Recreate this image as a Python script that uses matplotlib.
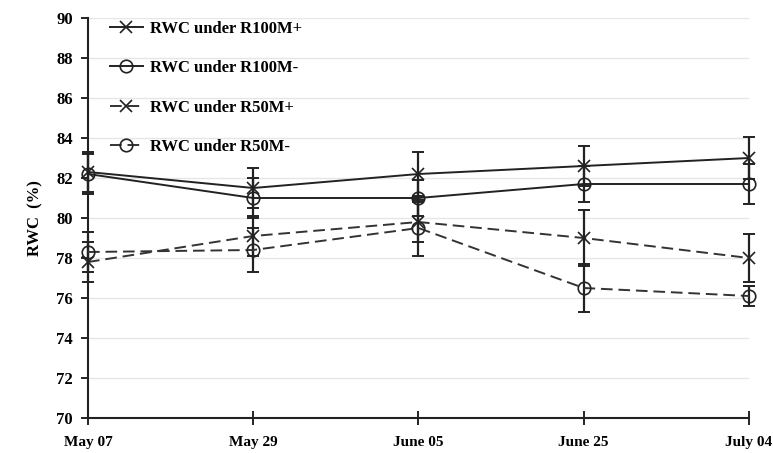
import matplotlib
matplotlib.use("Agg")
import matplotlib.pyplot as plt

dates = ["May 07", "May 29", "June 05", "June 25", "July 04"]
r100_plus = [82.3, 81.5, 82.2, 82.6, 83.0]
r100_plus_err = [1.0, 1.0, 1.1, 1.0, 1.05]
r100_minus = [82.2, 81.0, 81.0, 81.7, 81.7]
r100_minus_err = [1.0, 1.0, 0.9, 0.9, 1.0]
r50_plus = [77.8, 79.1, 79.8, 79.0, 78.0]
r50_plus_err = [1.0, 1.0, 1.0, 1.4, 1.2]
r50_minus = [78.3, 78.4, 79.5, 76.5, 76.1]
r50_minus_err = [1.0, 1.1, 1.4, 1.2, 0.5]
labels = ["RWC under R100M+", "RWC under R100M-", "RWC under R50M+", "RWC under R50M-"]

plt.rcParams['font.family'] = ['Liberation Serif', 'DejaVu Serif']
plt.rcParams['font.weight'] = 'bold'

fig = plt.figure(figsize=(7.73, 4.53), dpi=100)
ax = fig.add_axes([88/773, 1-418/453, (749-88)/773, 400/453])

x = list(range(len(dates)))
series = [
    (r100_plus, r100_plus_err, 'x', '-', labels[0]),
    (r100_minus, r100_minus_err, 'o', '-', labels[1]),
    (r50_plus, r50_plus_err, 'x', (0, (6, 3)), labels[2]),
    (r50_minus, r50_minus_err, 'o', (0, (6, 3)), labels[3]),
]
handles = []
for vals, errs, mk, ls, lab in series:
    col = '#222222' if ls == '-' else '#333333'
    ax.errorbar(x, vals, yerr=errs, fmt='none', ecolor='#222222', elinewidth=1.6,
                capsize=4, capthick=1.4, clip_on=False, zorder=3)
    ln, = ax.plot(x, vals, linestyle=ls, color=col, linewidth=1.4, marker=mk,
                  markersize=9 if mk == 'o' else 8, mfc='none', mec='#222222',
                  mew=1.2, clip_on=False, zorder=4, label=lab)
    handles.append(ln)

ax.set_xlim(0, 4)
ax.set_ylim(70, 90)
ax.set_yticks(range(70, 91, 2))
ax.set_xticks(x)
ax.set_xticklabels(dates)
ax.yaxis.grid(True, color='#e6e6e6', linewidth=1.0)
ax.set_axisbelow(True)
for s in ['top', 'right']:
    ax.spines[s].set_visible(False)
for s in ['left', 'bottom']:
    ax.spines[s].set_linewidth(1.5)
    ax.spines[s].set_color('#222222')
ax.tick_params(axis='y', direction='out', length=5, width=1.2, labelsize=12, pad=6)
ax.tick_params(axis='x', direction='inout', length=10, width=1.2, labelsize=11, pad=8)
for t in ax.get_xticklabels() + ax.get_yticklabels():
    t.set_fontweight('bold')
ax.set_ylabel("RWC  (%)", fontsize=12, fontweight='bold', labelpad=9)

leg = ax.legend(handles=handles, loc='upper left', bbox_to_anchor=(0.01, 1.03),
                frameon=False, handlelength=2.0, handletextpad=0.4,
                labelspacing=1.4, prop={'weight': 'bold', 'size': 12})

fig.savefig("out.png", dpi=100)
